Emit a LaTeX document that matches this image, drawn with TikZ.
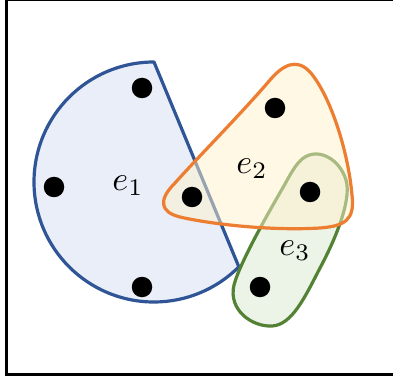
\documentclass[tikz,border=0pt]{standalone}
\usepackage{graphicx}
\usetikzlibrary{calc}
\definecolor{eBlueLine}{RGB}{47,85,151}
\definecolor{eBlueFill}{RGB}{233,238,248}
\definecolor{eOrangeLine}{RGB}{237,125,49}
\definecolor{eOrangeFill}{RGB}{255,242,204}
\definecolor{eGreenLine}{RGB}{84,130,53}
\definecolor{eGreenFill}{RGB}{236,244,231}
\newcommand{\eLab}[1]{\scalebox{3.4}{$#1$}}
\tikzset{
  vertexdot/.style={circle,fill=black,inner sep=0pt,minimum size=20.5pt},
  edgelabel/.style={inner sep=0pt},
  edgeline/.style={line width=3.2pt,line join=round},
}
\begin{document}
\begin{tikzpicture}[x=1pt,y=-1pt]
\useasboundingbox (0,0) rectangle (393,379);
% frame
\draw[line width=3pt] (6.5,0) -- (6.5,374) -- (393,374);
\draw[line width=1pt] (6.5,0.5) -- (393,0.5);
% e1: circular segment
\draw[edgeline,draw=eBlueLine,fill=eBlueFill]
  (154,62) arc[start angle=270,end angle=45,radius=120] -- cycle;
% e3
\draw[edgeline,draw=eGreenLine,fill=eGreenFill]
  (305,157) .. controls (320,148) and (340,160) .. (346,180)
  .. controls (352,200) and (335,240) .. (320,268)
  .. controls (305,297) and (292,325) .. (272,326)
  .. controls (252,327) and (228,310) .. (234,285)
  .. controls (240,262) and (270,210) .. (285,184)
  .. controls (292,171) and (298,161) .. (305,157) -- cycle;
% e2
\def\eTwoPath{(270,80) .. controls (282,66) and (296,57) .. (310,72)
  .. controls (330,95) and (348,150) .. (352,195)
  .. controls (355,220) and (345,226) .. (320,228)
  .. controls (270,231) and (210,224) .. (180,217)
  .. controls (160,212) and (158,200) .. (175,183)
  .. controls (200,155) and (240,115) .. (270,80) -- cycle}
\fill[eOrangeFill,opacity=0.5] \eTwoPath;
\draw[edgeline,draw=eOrangeLine] \eTwoPath;
% vertices
\node[vertexdot] (v1) at (142,88) {};
\node[vertexdot] (v2) at (54,187) {};
\node[vertexdot] (v3) at (142,287) {};
\node[vertexdot] (v4) at (192,197) {};
\node[vertexdot] (v5) at (275,108) {};
\node[vertexdot] (v6) at (310,192) {};
\node[vertexdot] (v7) at (260,287) {};
% labels
\node[edgelabel] (l1) at (128,186) {\eLab{e_1}};
\node[edgelabel] (l2) at (252,169) {\eLab{e_2}};
\node[edgelabel] (l3) at (295,251) {\eLab{e_3}};
\end{tikzpicture}
\end{document}
